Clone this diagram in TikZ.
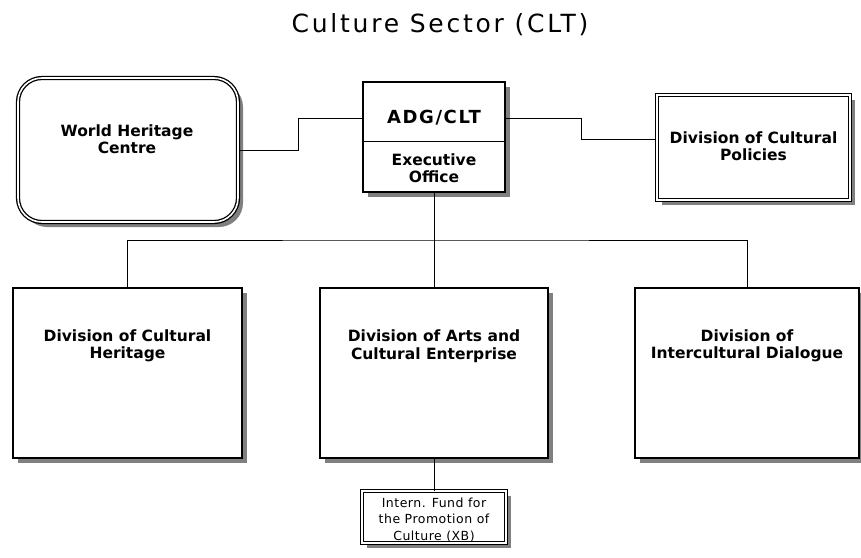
\documentclass[tikz,border=0pt]{standalone}
\usepackage{fontspec}
\setmainfont{DejaVu Sans}
\usetikzlibrary{calc,shadows}
\tikzset{
  shade5/.style={drop shadow={shadow xshift=5pt,shadow yshift=-5pt,fill=black!50,opacity=1}},
  heavybox/.style={draw=black,line width=2.6pt,fill=white,shade5},
  dblbox/.style={draw=black,double=white,double distance=1.6pt,line width=1.3pt,fill=white,shade5},
  lbl/.style={font=\bfseries\fontsize{15.5}{17.5}\selectfont,align=center,inner sep=0pt},
  small/.style={font=\fontsize{12.5}{16.5}\selectfont\addfontfeatures{LetterSpace=4},align=center,inner sep=0pt},
  wire/.style={draw=black,line width=1pt}
}
\begin{document}
\begin{tikzpicture}[x=1pt,y=-1pt]
\useasboundingbox (0,0) rectangle (861,557);

% heading
\node[font=\fontsize{25}{27}\selectfont\addfontfeatures{LetterSpace=11},inner sep=0pt] (title) at (440,25) {Culture Sector (CLT)};

% top row
\node[dblbox,rounded corners=24pt,minimum width=220pt,minimum height=144pt,inner sep=0pt] (whc) at (128,150) {};
\node[lbl] (whc-t) at (127,139) {World Heritage\\Centre};

\node[heavybox,minimum width=142pt,minimum height=110pt,inner sep=0pt] (adg) at (434,137) {};
\node[font=\bfseries\fontsize{18}{20}\selectfont\addfontfeatures{LetterSpace=9},inner sep=0pt] (adg-t) at (434,118) {ADG/CLT};
\node[lbl] (exe-t) at (434,168) {Executive\\Office};
\draw[line width=0.9pt] ($(adg.west)+(0,4)$) -- ($(adg.east)+(0,4)$);

\node[dblbox,minimum width=193pt,minimum height=105pt,inner sep=0pt] (cp) at (753.5,147.5) {};
\node[lbl] (cp-t) at (753.5,146) {Division of Cultural\\Policies};

% divisions
\node[heavybox,minimum width=229pt,minimum height=170pt,inner sep=0pt] (dch) at (127.5,373) {};
\node[lbl] (dch-t) at (127.5,346) {Division of Cultural\\Heritage};

\node[heavybox,minimum width=228pt,minimum height=170pt,inner sep=0pt] (dac) at (434,373) {};
\node[lbl] (dac-t) at (434,346) {Division of Arts and\\Cultural Enterprise};

\node[heavybox,minimum width=224pt,minimum height=170pt,inner sep=0pt] (dic) at (747,373) {};
\node[lbl] (dic-t) at (747,346) {Division of\\Intercultural Dialogue};

% extra-budgetary fund
\node[dblbox,line width=1pt,double distance=1.2pt,minimum width=144pt,minimum height=52pt,inner sep=0pt] (fund) at (434,517) {};
\node[small] (fund-t) at (434,520) {Intern. Fund for\\the Promotion of\\Culture (XB)};

% connectors
\coordinate (bus) at (434,240);
\draw[wire] (whc.east) -- ++(60,0) |- (adg.west |- adg-t);
\draw[wire] (adg.east |- adg-t) -- (581,118) |- ([yshift=8pt]cp.west);
\draw[wire] (adg.south) -- (dac.north);
\draw[wire] (dch.north) |- (bus) -| (dic.north);
\draw[wire] (dac.south) -- (fund.north);
\end{tikzpicture}
\end{document}
